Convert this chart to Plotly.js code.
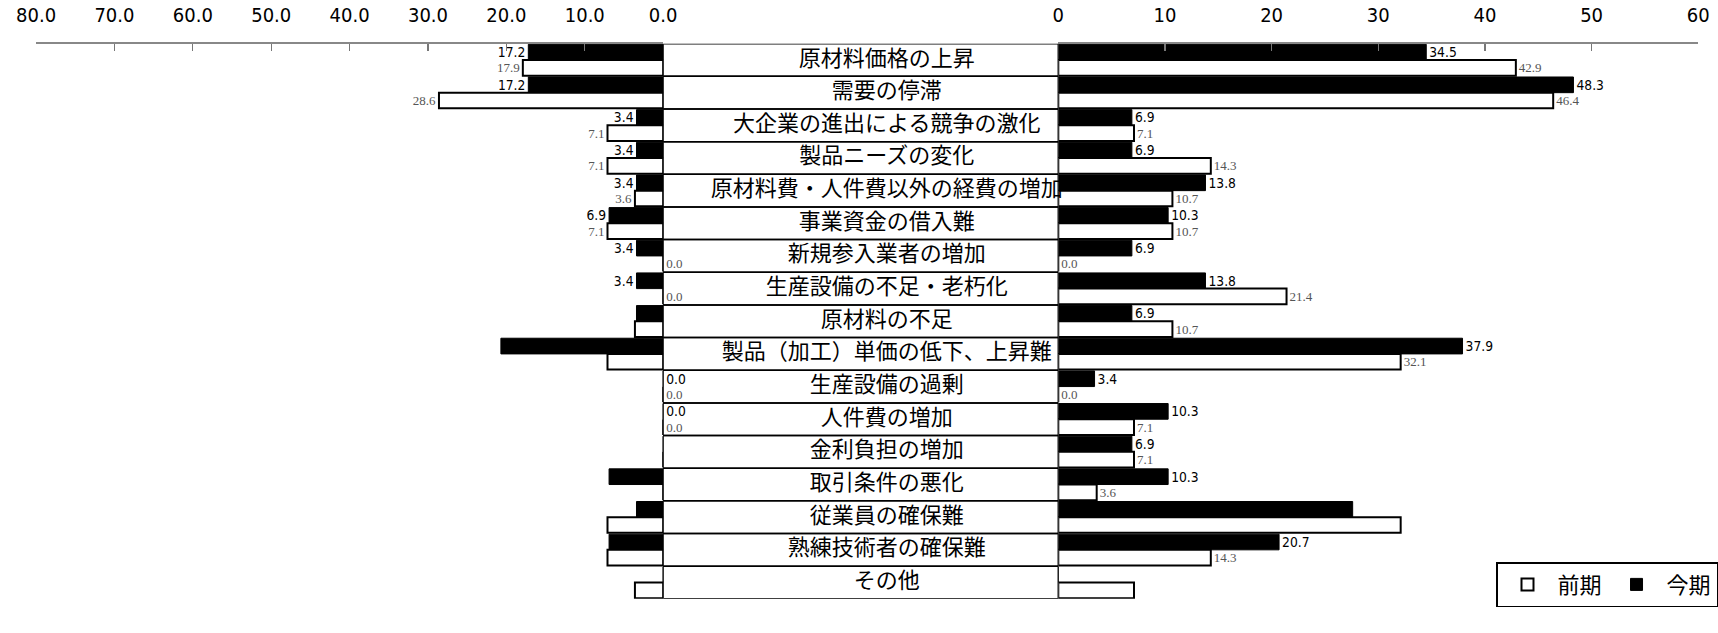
<!DOCTYPE html>
<html>
<head>
<meta charset="utf-8">
<script src="https://cdn.plot.ly/plotly-3.0.1.min.js"></script>
<style>
html, body { margin: 0; padding: 0; background: #fff; }
#chart { width: 1718px; height: 633px; }
</style>
</head>
<body>
<div id="chart"></div>
<script>
var categories = [
  '原材料価格の上昇', '需要の停滞', '大企業の進出による競争の激化', '製品ニーズの変化',
  '原材料費・人件費以外の経費の増加', '事業資金の借入難', '新規参入業者の増加',
  '生産設備の不足・老朽化', '原材料の不足', '製品（加工）単価の低下、上昇難',
  '生産設備の過剰', '人件費の増加', '金利負担の増加', '取引条件の悪化',
  '従業員の確保難', '熟練技術者の確保難', 'その他'
];

// left panel (axis runs 80 -> 0)
var leftNow  = [17.2, 17.2, 3.4, 3.4, 3.4, 6.9, 3.4, 3.4, 3.4, 20.7, 0.0, 0.0, 0.0, 6.9, 3.4, 6.9, 0.0];
var leftPrev = [17.9, 28.6, 7.1, 7.1, 3.6, 7.1, 0.0, 0.0, 3.6, 7.1, 0.0, 0.0, 0.0, 0.0, 7.1, 7.1, 3.6];
// which values carry a label in the original
var leftNowShow  = [1, 1, 1, 1, 1, 1, 1, 1, 0, 0, 1, 1, 0, 0, 0, 0, 0];
var leftPrevShow = [1, 1, 1, 1, 1, 1, 1, 1, 0, 0, 1, 1, 0, 0, 0, 0, 0];

// right panel (axis runs 0 -> 60)
var rightNow  = [34.5, 48.3, 6.9, 6.9, 13.8, 10.3, 6.9, 13.8, 6.9, 37.9, 3.4, 10.3, 6.9, 10.3, 27.6, 20.7, 0.0];
var rightPrev = [42.9, 46.4, 7.1, 14.3, 10.7, 10.7, 0.0, 21.4, 10.7, 32.1, 0.0, 7.1, 7.1, 3.6, 32.1, 14.3, 7.1];
var rightNowShow  = [1, 1, 1, 1, 1, 1, 1, 1, 1, 1, 1, 1, 1, 1, 0, 1, 0];
var rightPrevShow = [1, 1, 1, 1, 1, 1, 1, 1, 1, 1, 1, 1, 1, 1, 0, 1, 0];

var seriesNames = ['前期', '今期'];

function labels(vals, show) {
  return vals.map(function (v, i) { return show[i] ? v.toFixed(1) : ''; });
}

var nowFont = {family: 'Liberation Sans Narrow, DejaVu Sans Condensed, sans-serif', size: 14, color: '#000'};
var prevFont = {family: 'Liberation Serif, DejaVu Serif, serif', size: 13, color: '#555'};
var tickFont = {family: 'Liberation Sans Narrow, DejaVu Sans Condensed, sans-serif', size: 20, color: '#000'};
var catFont = {family: 'Noto Sans CJK JP', size: 22, color: '#000'};

var nowMarker = {color: '#000', line: {color: '#000', width: 1}};
var prevMarker = {color: '#fff', line: {color: '#000', width: 2}};

var data = [{
  type: 'bar', orientation: 'h', name: seriesNames[1],
  x: leftNow, y: categories, xaxis: 'x', yaxis: 'y',
  marker: nowMarker,
  text: labels(leftNow, leftNowShow), textposition: 'outside', textfont: nowFont,
  cliponaxis: false, showlegend: false, hoverinfo: 'x+name'
}, {
  type: 'bar', orientation: 'h', name: seriesNames[0],
  x: leftPrev, y: categories, xaxis: 'x', yaxis: 'y',
  marker: prevMarker,
  text: labels(leftPrev, leftPrevShow), textposition: 'outside', textfont: prevFont,
  cliponaxis: false, showlegend: false, hoverinfo: 'x+name'
}, {
  type: 'bar', orientation: 'h', name: seriesNames[1],
  x: rightNow, y: categories, xaxis: 'x2', yaxis: 'y',
  marker: nowMarker, legendrank: 2,
  text: labels(rightNow, rightNowShow), textposition: 'outside', textfont: nowFont,
  cliponaxis: false, hoverinfo: 'x+name'
}, {
  type: 'bar', orientation: 'h', name: seriesNames[0],
  x: rightPrev, y: categories, xaxis: 'x2', yaxis: 'y',
  marker: prevMarker, legendrank: 1,
  text: labels(rightPrev, rightPrevShow), textposition: 'outside', textfont: prevFont,
  cliponaxis: false, hoverinfo: 'x+name'
}, {
  // outlined boxes of the middle column (transparent so zero labels show through)
  type: 'bar', orientation: 'h',
  x: categories.map(function () { return 1; }), y: categories, xaxis: 'x3', yaxis: 'y',
  width: 1,
  marker: {color: 'rgba(0,0,0,0)', line: {color: '#000', width: 1.5}},
  showlegend: false, hoverinfo: 'skip'
}, {
  // category names, set a little right of the box centre as in the original
  type: 'scatter', mode: 'text',
  x: categories.map(function () { return 0.566; }), y: categories, xaxis: 'x3', yaxis: 'y',
  text: categories, textposition: 'middle center', textfont: catFont,
  cliponaxis: false, showlegend: false, hoverinfo: 'skip'
}];

var layout = {
  width: 1718, height: 633,
  margin: {l: 0, r: 0, t: 0, b: 0, autoexpand: false},
  paper_bgcolor: '#fff', plot_bgcolor: 'rgba(0,0,0,0)',
  barmode: 'group', bargap: 0.04, bargroupgap: 0,
  font: {family: 'Noto Sans CJK JP', color: '#000'},
  xaxis: {
    domain: [0.021, 0.386], range: [80, 0], side: 'top', anchor: 'y',
    tick0: 0, dtick: 10, tickformat: '.1f',
    ticks: 'inside', ticklen: 7, tickcolor: '#777', tickwidth: 1.2,
    showline: true, linecolor: '#888', linewidth: 1.5,
    showgrid: false, zeroline: false, tickfont: tickFont, ticklabelstandoff: 12
  },
  xaxis2: {
    domain: [0.616, 0.9885], range: [0, 60], side: 'top', anchor: 'y',
    tick0: 0, dtick: 10, tickformat: 'd',
    ticks: 'inside', ticklen: 7, tickcolor: '#777', tickwidth: 1.2,
    showline: true, linecolor: '#888', linewidth: 1.5,
    showgrid: false, zeroline: false, tickfont: tickFont, ticklabelstandoff: 12
  },
  xaxis3: {domain: [0.386, 0.616], range: [0, 1], anchor: 'y', visible: false},
  yaxis: {
    domain: [0.054, 0.931], range: [categories.length - 0.5, -0.5],
    type: 'category', visible: false
  },
  legend: {
    orientation: 'h', x: 1, y: 0.112, xanchor: 'right', yanchor: 'top',
    bordercolor: '#000', borderwidth: 1.5, bgcolor: '#fff', itemwidth: 50,
    font: {family: 'Noto Sans CJK JP', size: 22, color: '#000'}
  }
};

Plotly.newPlot('chart', data, layout, {displayModeBar: false, staticPlot: true});
</script>
</body>
</html>
